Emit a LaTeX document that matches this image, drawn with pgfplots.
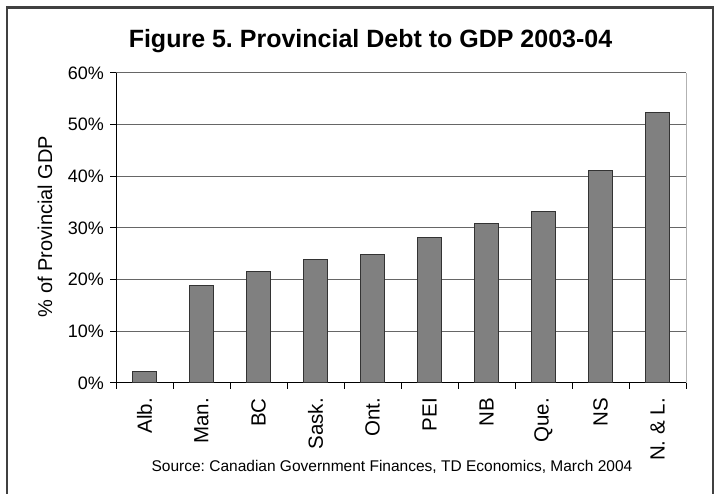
\documentclass[border=0pt]{standalone}
\usepackage{fontspec}
\setmainfont{Liberation Sans}
\usepackage{pgfplots}
\pgfplotsset{compat=1.18}
\definecolor{barfill}{HTML}{808080}
\definecolor{bardraw}{HTML}{333333}
\frenchspacing
\begin{document}
\begin{tikzpicture}[x=1pt,y=1pt]
\useasboundingbox (0,0) rectangle (720,494);
\draw[line width=2.5pt, black!75] (7,-10) -- (7,486.5) -- (713,486.5) -- (713,-10);
\node[anchor=base, font=\bfseries\fontsize{25}{30}\selectfont] at (370.5,446.7) {Figure 5. Provincial Debt to GDP 2003-04};
\node[rotate=90, anchor=base, font=\fontsize{20}{24}\selectfont] at (52,267.5) {\% of Provincial GDP};
\node[anchor=base, font=\fontsize{15.5}{18}\selectfont] at (392,22.3) {Source: Canadian Government Finances, TD Economics, March 2004};
\begin{axis}[
  at={(116pt,111pt)}, anchor=south west,
  scale only axis, width=570pt, height=310pt,
  xmin=-0.5, xmax=9.5, ymin=0, ymax=60,
  ybar, bar width=23.5pt,
  axis x line*=bottom, axis y line*=left,
  axis line style={black, line width=1pt},
  xtick={0,...,9},
  xticklabels={Alb.,Man.,BC,Sask.,Ont.,PEI,NB,Que.,NS,N. \& L.},
  minor xtick={-0.5,0.5,...,9.5},
  major x tick style={draw=none},
  ytick={0,10,...,60},
  yticklabel={\pgfmathprintnumber{\tick}\%},
  /pgf/number format/assume math mode=true,
  tick align=outside,
  major tick length=6pt, minor tick length=6pt,
  tick style={black, line width=1pt},
  ymajorgrids,
  major grid style={black!60, line width=1pt},
  tick label style={font=\fontsize{18}{21}\selectfont},
  xticklabel style={font=\fontsize{20.5}{24}\selectfont, yshift=-9pt, rotate=90, anchor=east, inner sep=0pt},
  yticklabel style={inner sep=0pt, xshift=-6pt},
  clip=false,
]
\addplot[fill=barfill, draw=bardraw, line width=1pt] coordinates {
  (0,2.25) (1,18.9) (2,21.5) (3,23.9) (4,24.9)
  (5,28.2) (6,30.9) (7,33.1) (8,41.1) (9,52.3)
};
\draw[black!30, line width=1pt] (axis cs:9.5,0) -- (axis cs:9.5,60);
\end{axis}
\end{tikzpicture}
\end{document}
